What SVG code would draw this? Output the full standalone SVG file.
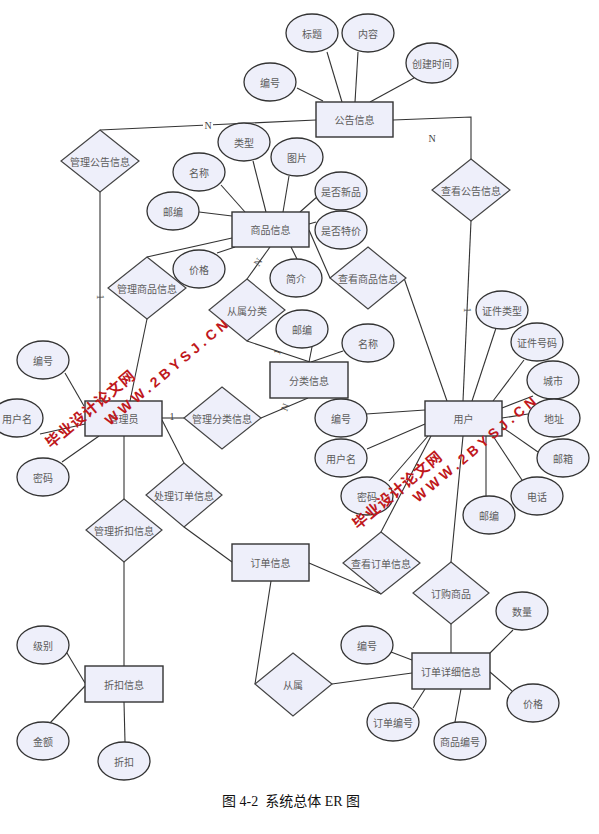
<svg xmlns="http://www.w3.org/2000/svg" width="599" height="834" viewBox="0 0 599 834">
<style>
.ent{fill:#EEEFFA;stroke:#333;stroke-width:1.4}
.rel{fill:#EEEFFA;stroke:#444;stroke-width:1.2}
.att{fill:#EEEFFA;stroke:#333;stroke-width:1.3}
.t{font-family:"Noto Sans CJK SC",sans-serif;font-size:10px;fill:#5c5c5c;text-anchor:middle;dominant-baseline:central}
.c line,.c polyline{stroke:#333;stroke-width:1.1;fill:none}
.lbl{font-family:"Liberation Serif",serif;font-size:10px;fill:#444;text-anchor:middle;dominant-baseline:central}
.wm{font-weight:bold;fill:#C0181C}
.wmc{font-family:"Noto Sans CJK SC",sans-serif;font-size:15px;letter-spacing:1px}
.wme{font-family:"Liberation Sans",sans-serif;font-size:14px;letter-spacing:4px}
.cap{font-family:"Liberation Serif","Noto Sans CJK SC",serif;font-size:14px;fill:#111}
</style>
<rect width="599" height="834" fill="#fff"/>
<g class="c" id="connectors">
<line x1="327" y1="52" x2="342" y2="102"/>
<line x1="358" y1="52" x2="355" y2="102"/>
<line x1="414" y1="78" x2="370" y2="102"/>
<line x1="297" y1="88" x2="323" y2="101"/>
<line x1="316" y1="120" x2="100" y2="130"/>
<polyline points="393,120 471,117 471,159"/>
<line x1="100" y1="192" x2="100" y2="401"/>
<line x1="471" y1="221" x2="463" y2="401"/>
<line x1="221" y1="185" x2="245" y2="212"/>
<line x1="253" y1="161" x2="266" y2="212"/>
<line x1="289" y1="176" x2="283" y2="212"/>
<line x1="318" y1="196" x2="300" y2="212"/>
<line x1="199" y1="212" x2="232" y2="216"/>
<line x1="147" y1="257" x2="232" y2="238"/>
<line x1="217" y1="253" x2="235" y2="247"/>
<line x1="291" y1="247" x2="297" y2="259"/>
<line x1="309" y1="224" x2="316" y2="222"/>
<line x1="309" y1="230" x2="330" y2="278"/>
<line x1="404" y1="278" x2="447" y2="401"/>
<line x1="147" y1="319" x2="130" y2="401"/>
<line x1="270" y1="247" x2="247" y2="279"/>
<line x1="247" y1="341" x2="310" y2="362"/>
<line x1="312" y1="347" x2="309" y2="362"/>
<line x1="343" y1="351" x2="311" y2="362"/>
<line x1="308" y1="398" x2="261" y2="418"/>
<line x1="162" y1="418" x2="184" y2="418"/>
<line x1="162" y1="420" x2="184" y2="463"/>
<line x1="184" y1="527" x2="232" y2="562"/>
<line x1="124" y1="436" x2="124" y2="499"/>
<line x1="124" y1="562" x2="124" y2="666"/>
<line x1="65" y1="373" x2="84" y2="406"/>
<line x1="40" y1="434" x2="85" y2="424"/>
<line x1="62" y1="462" x2="99" y2="436"/>
<line x1="366" y1="414" x2="425" y2="410"/>
<line x1="367" y1="449" x2="425" y2="424"/>
<line x1="389" y1="481" x2="428" y2="436"/>
<line x1="381" y1="532" x2="431" y2="436"/>
<line x1="496" y1="328" x2="472" y2="401"/>
<line x1="524" y1="360" x2="493" y2="401"/>
<line x1="533" y1="396" x2="502" y2="408"/>
<line x1="528" y1="414" x2="502" y2="418"/>
<line x1="538" y1="452" x2="502" y2="427"/>
<line x1="522" y1="480" x2="493" y2="436"/>
<line x1="486" y1="436" x2="486" y2="496"/>
<line x1="463" y1="436" x2="451" y2="562"/>
<line x1="381" y1="594" x2="309" y2="563"/>
<line x1="451" y1="624" x2="451" y2="653"/>
<line x1="271" y1="581" x2="255" y2="684"/>
<line x1="332" y1="684" x2="412" y2="673"/>
<line x1="391" y1="652" x2="412" y2="660"/>
<line x1="513" y1="630" x2="490" y2="653"/>
<line x1="512" y1="691" x2="490" y2="672"/>
<line x1="413" y1="708" x2="425" y2="689"/>
<line x1="455" y1="722" x2="461" y2="689"/>
<line x1="67" y1="653" x2="85" y2="683"/>
<line x1="50" y1="723" x2="85" y2="686"/>
<line x1="125" y1="742" x2="124" y2="702"/>
</g>
<g id="cardinality">
<rect x="203" y="120" width="10" height="10" fill="#fff"/>
<text class="lbl" x="208" y="125">N</text>
<text class="lbl" x="432" y="138">N</text>
<text class="lbl" transform="translate(100,297) rotate(90)">1</text>
<text class="lbl" transform="translate(467,310) rotate(90)">1</text>
<text class="lbl" transform="translate(258,262) rotate(-55)">N</text>
<text class="lbl" transform="translate(277,352) rotate(-70)">1</text>
<text class="lbl" transform="translate(285,407) rotate(-68)">N</text>
<text class="lbl" x="172" y="416">1</text>
</g>
<g id="e-gonggao"><rect class="ent" x="316" y="102" width="77" height="35"/><text class="t" x="354.5" y="119.5">公告信息</text></g>
<g id="e-shangpin"><rect class="ent" x="232" y="212" width="77" height="35"/><text class="t" x="270.5" y="229.5">商品信息</text></g>
<g id="e-fenlei"><rect class="ent" x="270" y="362" width="78" height="36"/><text class="t" x="309" y="380">分类信息</text></g>
<g id="e-guanliyuan"><rect class="ent" x="85" y="401" width="77" height="35"/><text class="t" x="123.5" y="418.5">管理员</text></g>
<g id="e-yonghu"><rect class="ent" x="425" y="401" width="77" height="35"/><text class="t" x="463.5" y="418.5">用户</text></g>
<g id="e-dingdan"><rect class="ent" x="232" y="544" width="77" height="37"/><text class="t" x="270.5" y="562.5">订单信息</text></g>
<g id="e-xiangxi"><rect class="ent" x="412" y="653" width="78" height="36"/><text class="t" x="451" y="671">订单详细信息</text></g>
<g id="e-zhekou"><rect class="ent" x="85" y="666" width="78" height="36"/><text class="t" x="124" y="684">折扣信息</text></g>

<g id="r-glgg"><polygon class="rel" points="100,130 139,161 100,192 61,161"/><text class="t" x="100" y="161">管理公告信息</text></g>
<g id="r-ckgg"><polygon class="rel" points="471,159 510,190 471,221 432,190"/><text class="t" x="471" y="190">查看公告信息</text></g>
<g id="r-glsp"><polygon class="rel" points="147,257 186,288 147,319 108,288"/><text class="t" x="147" y="288">管理商品信息</text></g>
<g id="r-cslf"><polygon class="rel" points="247,279 285,310 247,341 209,310"/><text class="t" x="247" y="310">从属分类</text></g>
<g id="r-cksp"><polygon class="rel" points="368,247 406,278 368,309 330,278"/><text class="t" x="368" y="278">查看商品信息</text></g>
<g id="r-glfl"><polygon class="rel" points="222,387 261,418 222,449 184,418"/><text class="t" x="222" y="418">管理分类信息</text></g>
<g id="r-cldd"><polygon class="rel" points="184,463 222,495 184,527 146,495"/><text class="t" x="184" y="495">处理订单信息</text></g>
<g id="r-glzk"><polygon class="rel" points="124,499 162,530 124,562 86,530"/><text class="t" x="124" y="530">管理折扣信息</text></g>
<g id="r-ckdd"><polygon class="rel" points="381,532 420,563 381,594 343,563"/><text class="t" x="381" y="563">查看订单信息</text></g>
<g id="r-dgsp"><polygon class="rel" points="451,562 489,593 451,624 413,593"/><text class="t" x="451" y="593">订购商品</text></g>
<g id="r-cs"><polygon class="rel" points="293,653 332,684 293,716 255,684"/><text class="t" x="293" y="684">从属</text></g>

<g id="a-biaoti"><ellipse class="att" cx="312" cy="33" rx="26" ry="19"/><text class="t" x="312" y="33">标题</text></g>
<g id="a-neirong"><ellipse class="att" cx="368" cy="33" rx="26" ry="19"/><text class="t" x="368" y="33">内容</text></g>
<g id="a-cjsj"><ellipse class="att" cx="432" cy="63" rx="26" ry="20"/><text class="t" x="432" y="63">创建时间</text></g>
<g id="a-gg-bh"><ellipse class="att" cx="270" cy="82" rx="26" ry="19"/><text class="t" x="270" y="82">编号</text></g>
<g id="a-leixing"><ellipse class="att" cx="244" cy="142" rx="26" ry="19"/><text class="t" x="244" y="142">类型</text></g>
<g id="a-tupian"><ellipse class="att" cx="297" cy="157" rx="26" ry="19"/><text class="t" x="297" y="157">图片</text></g>
<g id="a-sfxp"><ellipse class="att" cx="341" cy="191" rx="26" ry="19"/><text class="t" x="341" y="191">是否新品</text></g>
<g id="a-sp-mc"><ellipse class="att" cx="199" cy="172" rx="26" ry="19"/><text class="t" x="199" y="172">名称</text></g>
<g id="a-sp-yb"><ellipse class="att" cx="173" cy="211" rx="26" ry="19"/><text class="t" x="173" y="211">邮编</text></g>
<g id="a-sftj"><ellipse class="att" cx="341" cy="230" rx="26" ry="19"/><text class="t" x="341" y="230">是否特价</text></g>
<g id="a-sp-jg"><ellipse class="att" cx="199" cy="269" rx="26" ry="19"/><text class="t" x="199" y="269">价格</text></g>
<g id="a-jianjie"><ellipse class="att" cx="296" cy="278" rx="26" ry="19"/><text class="t" x="296" y="278">简介</text></g>
<g id="a-fl-yb"><ellipse class="att" cx="302" cy="329" rx="26" ry="19"/><text class="t" x="302" y="329">邮编</text></g>
<g id="a-fl-mc"><ellipse class="att" cx="368" cy="343" rx="26" ry="19"/><text class="t" x="368" y="343">名称</text></g>
<g id="a-gly-bh"><ellipse class="att" cx="43" cy="360" rx="26" ry="19"/><text class="t" x="43" y="360">编号</text></g>
<g id="a-gly-yhm"><ellipse class="att" cx="17" cy="418" rx="26" ry="19"/><text class="t" x="17" y="418">用户名</text></g>
<g id="a-gly-mm"><ellipse class="att" cx="43" cy="477" rx="26" ry="19"/><text class="t" x="43" y="477">密码</text></g>
<g id="a-yh-bh"><ellipse class="att" cx="341" cy="418" rx="26" ry="19"/><text class="t" x="341" y="418">编号</text></g>
<g id="a-yh-yhm"><ellipse class="att" cx="341" cy="458" rx="26" ry="19"/><text class="t" x="341" y="458">用户名</text></g>
<g id="a-yh-mm"><ellipse class="att" cx="367" cy="496" rx="26" ry="19"/><text class="t" x="367" y="496">密码</text></g>
<g id="a-zjlx"><ellipse class="att" cx="502" cy="310" rx="26" ry="19"/><text class="t" x="502" y="310">证件类型</text></g>
<g id="a-zjhm"><ellipse class="att" cx="537" cy="342" rx="26" ry="19"/><text class="t" x="537" y="342">证件号码</text></g>
<g id="a-chengshi"><ellipse class="att" cx="553" cy="380" rx="26" ry="19"/><text class="t" x="553" y="380">城市</text></g>
<g id="a-dizhi"><ellipse class="att" cx="554" cy="418" rx="26" ry="19"/><text class="t" x="554" y="418">地址</text></g>
<g id="a-youxiang"><ellipse class="att" cx="563" cy="458" rx="26" ry="19"/><text class="t" x="563" y="458">邮箱</text></g>
<g id="a-dianhua"><ellipse class="att" cx="537" cy="496" rx="26" ry="19"/><text class="t" x="537" y="496">电话</text></g>
<g id="a-yh-yb"><ellipse class="att" cx="489" cy="515" rx="26" ry="19"/><text class="t" x="489" y="515">邮编</text></g>
<g id="a-shuliang"><ellipse class="att" cx="522" cy="611" rx="26" ry="19"/><text class="t" x="522" y="611">数量</text></g>
<g id="a-xx-bh"><ellipse class="att" cx="367" cy="645" rx="26" ry="19"/><text class="t" x="367" y="645">编号</text></g>
<g id="a-ddbh"><ellipse class="att" cx="393" cy="722" rx="26" ry="19"/><text class="t" x="393" y="722">订单编号</text></g>
<g id="a-spbh"><ellipse class="att" cx="460" cy="741" rx="26" ry="19"/><text class="t" x="460" y="741">商品编号</text></g>
<g id="a-xx-jg"><ellipse class="att" cx="533" cy="703" rx="26" ry="19"/><text class="t" x="533" y="703">价格</text></g>
<g id="a-jibie"><ellipse class="att" cx="43" cy="645" rx="26" ry="19"/><text class="t" x="43" y="645">级别</text></g>
<g id="a-jine"><ellipse class="att" cx="43" cy="741" rx="26" ry="19"/><text class="t" x="43" y="741">金额</text></g>
<g id="a-zhekou"><ellipse class="att" cx="124" cy="761" rx="26" ry="19"/><text class="t" x="124" y="761">折扣</text></g>

<g id="watermark" class="wm">
<text class="wmc" transform="translate(51,449) rotate(-40)">毕业设计论文网</text>
<text class="wme" transform="translate(110,426) rotate(-40)">WWW.2BYSJ.CN</text>
<text class="wmc" transform="translate(358,530) rotate(-40)">毕业设计论文网</text>
<text class="wme" transform="translate(418,503) rotate(-40)">WWW.2BYSJ.CN</text>
</g>
<text class="cap" x="222" y="806" xml:space="preserve">图 4-2  系统总体 ER 图</text>
</svg>
